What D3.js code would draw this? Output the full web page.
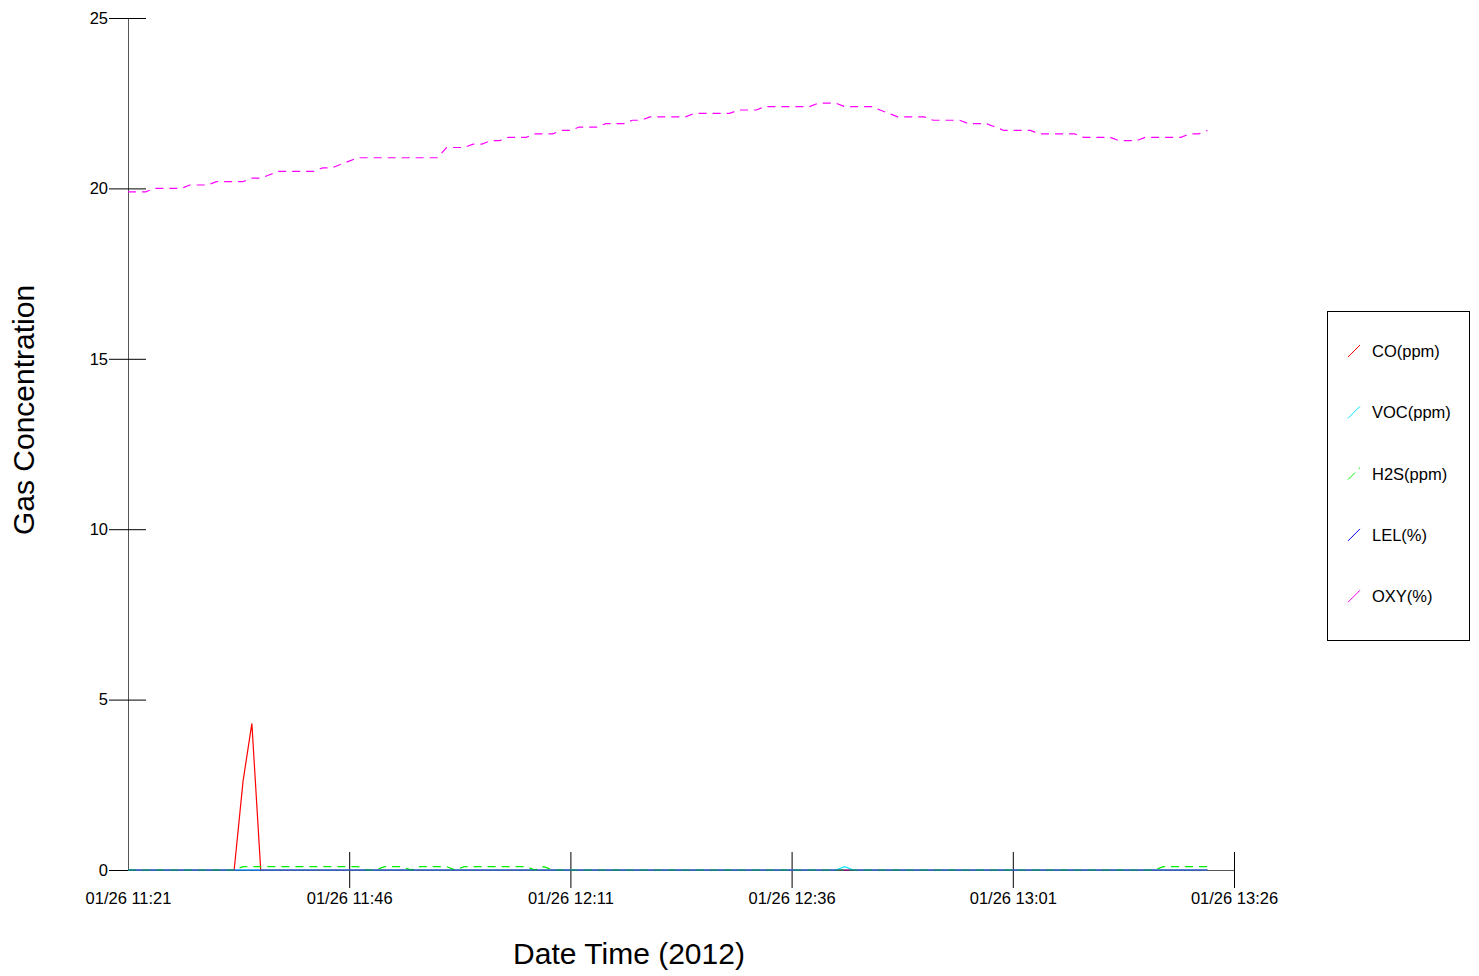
<!DOCTYPE html>
<html>
<head>
<meta charset="utf-8">
<script src="https://cdn.jsdelivr.net/npm/d3@7"></script>
<style>
  body { margin: 0; background: #fff; }
  svg { display: block; font-family: "Liberation Sans", Arial, sans-serif; }
</style>
</head>
<body>
<svg id="chart" width="1479" height="976"></svg>
<script>
// readings, one per minute starting 01/26/2012 11:21
const startTime = new Date(2012, 0, 26, 11, 21);
const endTime = new Date(2012, 0, 26, 13, 26);

const coPpm = [
  0,0,0,0,0,0,0,0,0,0,0,0,0,2.6,4.3,0,0,0,0,0,
  0,0,0,0,0,0,0,0,0,0,0,0,0,0,0,0,0,0,0,0,
  0,0,0,0,0,0,0,0,0,0,0,0,0,0,0,0,0,0,0,0,
  0,0,0,0,0,0,0,0,0,0,0,0,0,0,0,0,0,0,0,0,
  0,0,0,0,0,0,0,0,0,0,0,0,0,0,0,0,0,0,0,0,
  0,0,0,0,0,0,0,0,0,0,0,0,0,0,0,0,0,0,0,0,
  0,0,0
];
const vocPpm = [
  0,0,0,0,0,0,0,0,0,0,0,0,0,0,0,0,0,0,0,0,
  0,0,0,0,0,0,0,0,0,0,0,0,0,0,0,0,0,0,0,0,
  0,0,0,0,0,0,0,0,0,0,0,0,0,0,0,0,0,0,0,0,
  0,0,0,0,0,0,0,0,0,0,0,0,0,0,0,0,0,0,0,0,
  0,0.1,0,0,0,0,0,0,0,0,0,0,0,0,0,0,0,0,0,0,
  0,0,0,0,0,0,0,0,0,0,0,0,0,0,0,0,0,0,0,0,
  0,0,0
];
const h2sPpm = [
  0,0,0,0,0,0,0,0,0,0,0,0,0,0.1,0.1,0.1,0.1,0.1,0.1,0.1,
  0.1,0.1,0.1,0.1,0.1,0.1,0.1,0,0,0.1,0.1,0.1,0,0.1,0.1,0.1,0.1,0,0.1,0.1,
  0.1,0.1,0.1,0.1,0.1,0.1,0,0.1,0,0,0,0,0,0,0,0,0,0,0,0,
  0,0,0,0,0,0,0,0,0,0,0,0,0,0,0,0,0,0,0,0,
  0,0,0,0,0,0,0,0,0,0,0,0,0,0,0,0,0,0,0,0,
  0,0,0,0,0,0,0,0,0,0,0,0,0,0,0,0,0,0.1,0.1,0.1,
  0.1,0.1,0.1
];
const lelPct = [
  0,0,0,0,0,0,0,0,0,0,0,0,0,0,0,0,0,0,0,0,
  0,0,0,0,0,0,0,0,0,0,0,0,0,0,0,0,0,0,0,0,
  0,0,0,0,0,0,0,0,0,0,0,0,0,0,0,0,0,0,0,0,
  0,0,0,0,0,0,0,0,0,0,0,0,0,0,0,0,0,0,0,0,
  0,0,0,0,0,0,0,0,0,0,0,0,0,0,0,0,0,0,0,0,
  0,0,0,0,0,0,0,0,0,0,0,0,0,0,0,0,0,0,0,0,
  0,0,0
];
const oxyPct = [
  19.9,19.9,19.9,20.0,20.0,20.0,20.0,20.1,20.1,20.1,
  20.2,20.2,20.2,20.2,20.3,20.3,20.4,20.5,20.5,20.5,
  20.5,20.5,20.6,20.6,20.7,20.8,20.9,20.9,20.9,20.9,
  20.9,20.9,20.9,20.9,20.9,20.9,21.2,21.2,21.2,21.3,
  21.3,21.4,21.4,21.5,21.5,21.5,21.6,21.6,21.6,21.7,
  21.7,21.8,21.8,21.8,21.9,21.9,21.9,22.0,22.0,22.1,
  22.1,22.1,22.1,22.1,22.2,22.2,22.2,22.2,22.2,22.3,
  22.3,22.3,22.4,22.4,22.4,22.4,22.4,22.4,22.5,22.5,
  22.5,22.4,22.4,22.4,22.4,22.3,22.2,22.1,22.1,22.1,
  22.1,22.0,22.0,22.0,22.0,21.9,21.9,21.9,21.8,21.7,
  21.7,21.7,21.7,21.6,21.6,21.6,21.6,21.6,21.5,21.5,
  21.5,21.5,21.4,21.4,21.4,21.5,21.5,21.5,21.5,21.5,
  21.6,21.6,21.7
];

const seriesNames = ["CO(ppm)", "VOC(ppm)", "H2S(ppm)", "LEL(%)", "OXY(%)"];
const seriesColors = ["#ff0000", "#00e5f5", "#00ee00", "#0000ff", "#ff00ff"];
const seriesDash = [null, null, "8,6", null, "8,6"];
const legendDash = [null, null, "10,5", null, null];
const yTicks = [0, 5, 10, 15, 20, 25];

const series = [coPpm, vocPpm, h2sPpm, lelPct, oxyPct];
const times = oxyPct.map((d, i) => d3.timeMinute.offset(startTime, i));
const xTicks = d3.range(0, 6).map(k => d3.timeMinute.offset(startTime, k * 25));

const svg = d3.select("#chart");

const x = d3.scaleTime().domain([startTime, endTime]).range([128, 1234]);
const y = d3.scaleLinear().domain([0, 25]).range([870, 18]);

// y axis: ticks cross the axis line
const yAxis = svg.append("g").attr("transform", "translate(128,0)")
  .call(d3.axisLeft(y).tickValues(yTicks).tickSize(19).tickSizeOuter(0).tickPadding(1));
svg.append("g").attr("transform", "translate(128,0)")
  .call(d3.axisRight(y).tickValues(yTicks).tickSize(18).tickFormat(""))
  .select(".domain").remove();
yAxis.selectAll("text").attr("font-size", 16.5).attr("fill", "#000").attr("font-family", null);
yAxis.select(".domain").attr("stroke", "#555");

// x axis
const xAxis = svg.append("g").attr("transform", "translate(0,870)")
  .call(d3.axisBottom(x).tickValues(xTicks).tickSize(18).tickSizeOuter(0)
    .tickPadding(4).tickFormat(d3.timeFormat("%m/%d %H:%M")));
svg.append("g").attr("transform", "translate(0,870)")
  .call(d3.axisTop(x).tickValues(xTicks).tickSize(18).tickFormat(""))
  .call(g => g.select(".domain").remove())
  .selectAll(".tick line").filter((d, i) => i === 0).remove();
xAxis.selectAll(".tick line").filter((d, i) => i === 0).remove();
xAxis.selectAll("text").attr("font-size", 16.5).attr("fill", "#000").attr("font-family", null);
xAxis.select(".domain").attr("stroke", "#555");

// series lines
const line = d3.line()
  .x((d, i) => x(times[i]))
  .y(d => y(d));

series.forEach((vals, k) => {
  svg.append("path")
    .datum(vals)
    .attr("fill", "none")
    .attr("stroke", seriesColors[k])
    .attr("stroke-width", 1.2)
    .attr("stroke-dasharray", seriesDash[k])
    .attr("opacity", k === 3 ? 0.6 : 1)
    .attr("d", line);
});

// axis titles
svg.append("text")
  .attr("x", 629).attr("y", 964)
  .attr("text-anchor", "middle")
  .attr("font-size", 30)
  .text("Date Time (2012)");

svg.append("text")
  .attr("transform", "translate(34,410) rotate(-90)")
  .attr("text-anchor", "middle")
  .attr("font-size", 30)
  .text("Gas Concentration");

// legend
const legend = svg.append("g");
legend.append("rect")
  .attr("x", 1327.5).attr("y", 311.5)
  .attr("width", 142).attr("height", 329)
  .attr("fill", "#fff").attr("stroke", "#000");

const legendItems = legend.selectAll("g.item")
  .data(seriesNames)
  .enter().append("g")
  .attr("class", "item")
  .attr("transform", (d, i) => `translate(0,${351 + i * 61.3})`);

legendItems.append("line")
  .attr("x1", 1348).attr("y1", 6).attr("x2", 1360).attr("y2", -6)
  .attr("stroke", (d, i) => seriesColors[i])
  .attr("stroke-dasharray", (d, i) => legendDash[i]);

legendItems.append("text")
  .attr("x", 1372).attr("y", 6)
  .attr("font-size", 16.5)
  .text(d => d);
</script>
</body>
</html>
